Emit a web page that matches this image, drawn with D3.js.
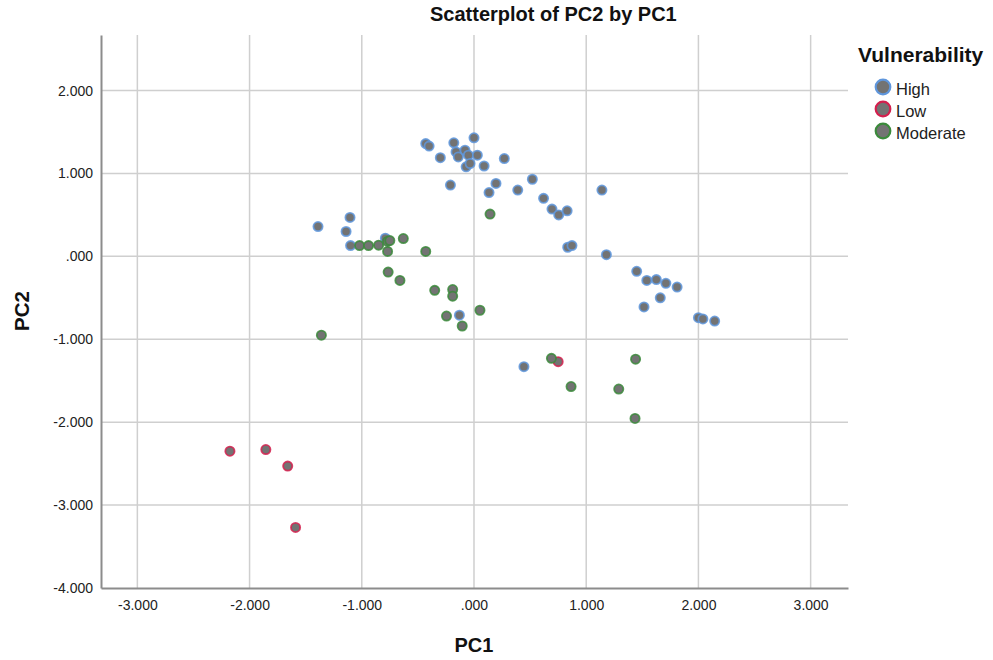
<!DOCTYPE html>
<html><head><meta charset="utf-8">
<script src="https://cdn.jsdelivr.net/npm/d3@7"></script>
<style>body{margin:0;background:#fff}svg{display:block}text{font-family:"Liberation Sans",Arial,sans-serif}</style>
</head><body><div id="chart"></div>
<script>
const categories = ["High","Low","Moderate"];
const strokeColors = ["#5f96dc","#d3204e","#3b8a3b"];
const highPC1 = [-1.39,-1.105,-1.14,-1.10,-0.79,-0.43,-0.40,-0.30,-0.18,-0.16,-0.14,-0.08,-0.05,0.00,0.03,-0.07,-0.035,0.09,0.27,-0.21,0.196,0.134,0.39,0.52,0.62,0.695,0.755,0.83,0.835,0.873,1.14,1.18,1.45,1.54,1.625,1.71,1.81,1.66,1.515,2.00,2.04,2.145,-0.13,0.445];
const highPC2 = [0.36,0.47,0.30,0.13,0.22,1.36,1.33,1.19,1.37,1.26,1.20,1.28,1.22,1.43,1.22,1.08,1.12,1.09,1.18,0.86,0.88,0.77,0.80,0.93,0.70,0.57,0.50,0.55,0.11,0.13,0.80,0.02,-0.18,-0.29,-0.28,-0.325,-0.37,-0.50,-0.61,-0.74,-0.755,-0.78,-0.71,-1.33];
const lowPC1 = [-2.175,-1.855,-1.66,-1.59,0.75];
const lowPC2 = [-2.35,-2.33,-2.53,-3.27,-1.27];
const modPC1 = [-1.02,-0.94,-0.85,-0.77,-0.75,-0.77,-0.63,-0.43,-0.765,-0.66,0.143,-1.36,-0.35,-0.19,-0.19,-0.245,-0.105,0.053,0.69,1.44,1.29,1.435,0.865];
const modPC2 = [0.13,0.13,0.135,0.18,0.19,0.06,0.215,0.06,-0.19,-0.29,0.51,-0.95,-0.41,-0.40,-0.48,-0.72,-0.84,-0.65,-1.23,-1.24,-1.60,-1.955,-1.57];
const xTicks = [-3,-2,-1,0,1,2,3];
const yTicks = [-4,-3,-2,-1,0,1,2];

const W=993,H=660;
const L=101,R=848,T=35,B=588;
const svg=d3.select("#chart").append("svg").attr("width",W).attr("height",H);
const x=d3.scaleLinear().domain([-3.324,3.333]).range([L,R]);
const y=d3.scaleLinear().domain([-4,2.67]).range([B,T]);
const loc=d3.formatLocale({decimal:".",thousands:",",grouping:[3],currency:["",""],minus:"-"});
const f3=loc.format(".3f");
const fmt=v=>f3(v).replace(/^0\./,".").replace(/^-0\./,"-.");

svg.append("g").selectAll("line").data(xTicks).join("line")
 .attr("x1",d=>x(d)).attr("x2",d=>x(d)).attr("y1",T).attr("y2",B)
 .attr("stroke","#cfcfcf").attr("stroke-width",1.5);
svg.append("g").selectAll("line").data(yTicks.filter(d=>d>-4)).join("line")
 .attr("y1",d=>y(d)).attr("y2",d=>y(d)).attr("x1",L).attr("x2",R)
 .attr("stroke","#cfcfcf").attr("stroke-width",1.5);

const xa=svg.append("g").attr("transform",`translate(0,${B})`)
 .call(d3.axisBottom(x).tickValues(xTicks).tickFormat(fmt).tickSize(0).tickPadding(12));
xa.select(".domain").attr("stroke","#8c8c8c").attr("stroke-width",2);
xa.selectAll("text").attr("font-size",14).attr("fill","#222");
const ya=svg.append("g").attr("transform",`translate(${L},0)`)
 .call(d3.axisLeft(y).tickValues(yTicks).tickFormat(fmt).tickSize(0).tickPadding(8));
ya.select(".domain").attr("stroke","#8c8c8c").attr("stroke-width",2);
ya.selectAll("text").attr("font-size",14).attr("fill","#222");

const series=[[highPC1,highPC2],[lowPC1,lowPC2],[modPC1,modPC2]];
series.forEach((s,i)=>{
  const pts=s[0].map((v,j)=>[v,s[1][j]]);
  svg.append("g").selectAll("circle").data(pts).join("circle")
   .attr("cx",d=>x(d[0])).attr("cy",d=>y(d[1])).attr("r",4.6)
   .attr("fill","#737373").attr("stroke",strokeColors[i]).attr("stroke-width",1.8).attr("stroke-opacity",0.85);
});

svg.append("text").attr("x",430).attr("y",21)
 .attr("font-size",20).attr("font-weight","bold").attr("fill","#111").text("Scatterplot of PC2 by PC1");
svg.append("text").attr("x",x(0)).attr("y",652).attr("text-anchor","middle")
 .attr("font-size",20).attr("font-weight","bold").attr("fill","#111").text("PC1");
svg.append("text").attr("transform",`translate(29,311) rotate(-90)`).attr("text-anchor","middle")
 .attr("font-size",20.5).attr("font-weight","bold").attr("fill","#111").text("PC2");

const lg=svg.append("g");
lg.append("text").attr("x",858).attr("y",62).attr("font-size",21).attr("font-weight","bold").attr("fill","#111").text("Vulnerability");
categories.forEach((c,i)=>{
  lg.append("circle").attr("cx",883).attr("cy",87+i*22).attr("r",7.3)
   .attr("fill","#737373").attr("stroke",strokeColors[i]).attr("stroke-width",2.2);
  lg.append("text").attr("x",896).attr("y",95+i*22).attr("font-size",16.5).attr("fill","#222").text(c);
});
</script></body></html>
